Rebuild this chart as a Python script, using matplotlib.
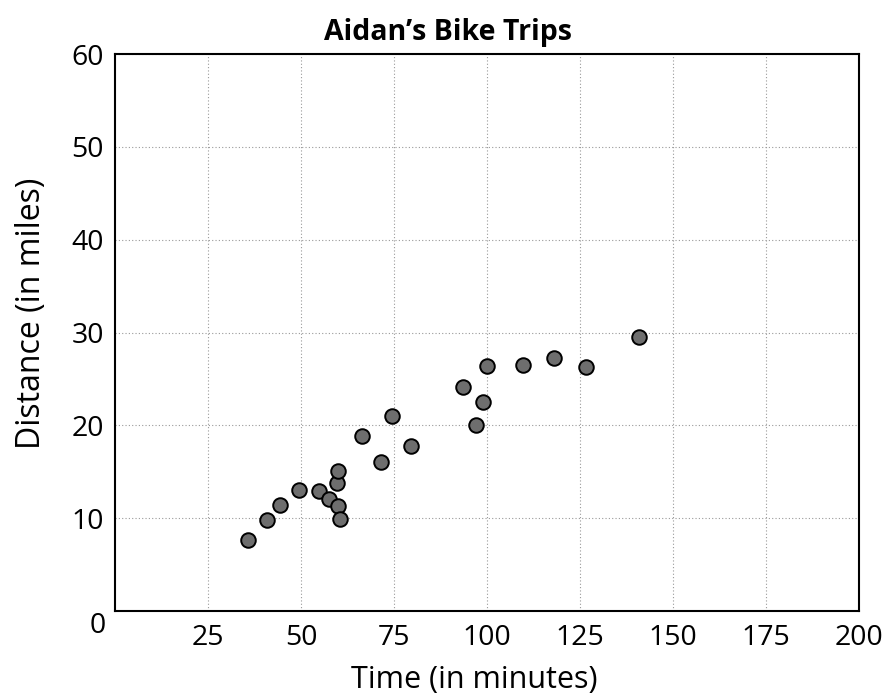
import matplotlib
matplotlib.use("Agg")
import matplotlib.pyplot as plt

# bike trips
time_min = [35.7, 40.8, 44.4, 49.5, 54.8, 57.6, 60.0, 60.6, 59.6, 60.0, 71.4,
            79.5, 66.3, 74.6, 93.5, 98.8, 97.0, 99.9, 109.6, 118.0, 126.5, 140.9]
distance_mi = [7.6, 9.8, 11.4, 13.0, 12.9, 12.1, 11.3, 9.95, 13.8, 15.1, 16.0,
               17.8, 18.9, 21.0, 24.1, 22.5, 20.0, 26.4, 26.5, 27.3, 26.3, 29.5]
x_ticks = [25, 50, 75, 100, 125, 150, 175, 200]
y_ticks = [10, 20, 30, 40, 50, 60]

plt.rcParams['font.family'] = ['Open Sans', 'DejaVu Sans']

fig = plt.figure(figsize=(8.96, 6.98), dpi=100)
ax = fig.add_axes([0.1283, 0.1246, 0.8304, 0.798])

ax.scatter(time_min, distance_mi, s=110, color="#6e6e6e", edgecolors="black",
           linewidths=1.4, zorder=3)

ax.set_xlim(0, 200)
ax.set_ylim(0, 60)
ax.set_xticks(x_ticks)
ax.set_yticks(y_ticks)
ax.tick_params(length=0, labelsize=20.5)
ax.tick_params(axis='x', pad=9)
ax.tick_params(axis='y', pad=8)
ax.grid(True, color="#999999", linestyle=(0, (1, 2)), linewidth=0.8)
for sp in ax.spines.values():
    sp.set_linewidth(1.5)

# origin label sits below the corner
ax.text(-2.5, -1.6, "0", fontsize=20.5, ha="right", va="center", clip_on=False)

ax.set_xlabel("Time (in minutes)", fontsize=22)
ax.set_ylabel("Distance (in miles)", fontsize=23)
ax.xaxis.set_label_coords(0.483, -0.097)
ax.yaxis.set_label_coords(-0.090, 0.535)
ax.set_title("Aidan’s Bike Trips", fontsize=20.5, fontweight="bold", pad=10, x=0.448)

fig.savefig("out.png", dpi=100)
